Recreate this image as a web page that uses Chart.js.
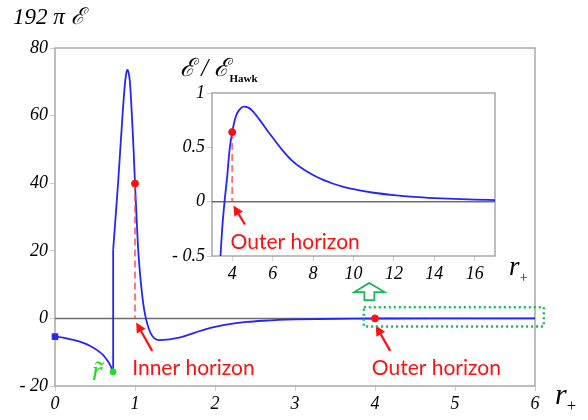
<!DOCTYPE html>
<html>
<head>
<meta charset="utf-8">
<script src="https://cdn.jsdelivr.net/npm/chart.js@4/dist/chart.umd.min.js"></script>
<style>
  body { margin: 0; background: #fff; }
  #wrap { position: relative; width: 588px; height: 420px; }
  #insetBox { position: absolute; left: 160px; top: 80px; width: 340px; height: 200px; }
  .lbl { position: absolute; font-family: "Liberation Serif", "DejaVu Serif", serif; font-style: italic; color: #000; white-space: nowrap; line-height: 1; }
  .sub { font-style: normal; font-size: 0.55em; position: relative; top: 0.45em; }
</style>
</head>
<body>
<div id="wrap">
  <canvas id="mainChart" width="588" height="420"></canvas>
  <div id="insetBox"><canvas id="insetChart" width="340" height="200"></canvas></div>
  <div class="lbl" style="left:13px;top:5px;font-size:23px;">192 π ℰ</div>
  <div class="lbl" style="left:180px;top:55px;font-size:25px;">ℰ / ℰ<span style="font-style:normal;font-weight:bold;font-size:11px;position:relative;top:6px;">Hawk</span></div>
  <div class="lbl" style="left:555px;top:379px;font-size:30px;">r<span class="sub">+</span></div>
  <div class="lbl" style="left:509px;top:253px;font-size:27px;">r<span class="sub">+</span></div>
</div>
<script>
// main curve: 192 pi E vs r+, split at the jump
const mainLeftX = [0, 0.1, 0.2, 0.3, 0.4, 0.5, 0.55, 0.6, 0.65, 0.69, 0.725];
const mainLeftY = [-5.4, -5.7, -6.2, -6.8, -7.7, -9.0, -9.8, -10.8, -12.3, -13.8, -15.8];
const mainRightX = [0.727, 0.789, 0.844, 0.877, 0.895, 0.906, 0.917, 0.936, 0.961, 0.982, 1.0, 1.019, 1.04, 1.074, 1.103, 1.136, 1.2, 1.3, 1.4, 1.5, 1.6, 1.7, 1.8, 1.9, 2.0, 2.2, 2.4, 2.6, 2.8, 3.0, 3.3, 3.7, 4.2, 5, 6];
const mainRightY = [20.3, 40.2, 60.1, 70.1, 73.0, 73.5, 73.0, 70.1, 60.1, 50.1, 39.9, 30.2, 20.3, 10.4, 4.4, 0, -4.6, -6.4, -6.3, -5.9, -5.4, -4.6, -3.8, -3.1, -2.5, -1.6, -1.05, -0.7, -0.45, -0.3, -0.18, -0.08, -0.03, -0.01, 0];
const mainXTicks = [0, 1, 2, 3, 4, 5, 6];
const mainYTicks = [-20, 0, 20, 40, 60, 80];

// inset curve: E / E_Hawk vs r+
const insetX = [3.42, 3.5, 3.62, 3.75, 3.87, 4.0, 4.17, 4.35, 4.58, 4.8, 5.0, 5.33, 5.6, 6.0, 6.5, 7.0, 7.5, 8.0, 8.5, 9.0, 9.5, 10, 11, 12, 13, 14, 15, 16, 17];
const insetY = [-0.5, -0.26, 0, 0.23, 0.48, 0.64, 0.78, 0.845, 0.874, 0.865, 0.835, 0.76, 0.69, 0.59, 0.47, 0.37, 0.30, 0.245, 0.2, 0.165, 0.137, 0.115, 0.082, 0.06, 0.044, 0.033, 0.025, 0.019, 0.015];
const insetXTicks = [4, 6, 8, 10, 12, 14, 16];
const insetYTicks = [-0.5, 0, 0.5, 1];

// marked points
const startPt = [0, -5.4];
const tildePt = [0.725, -15.8];
const innerPt = [1, 39.9];
const outerPt = [4, 0];
const insetOuterPt = [4, 0.64];

const BLUE = '#2424ff';
const RED = '#ff1010';
const GREEN = '#1ee01e';

function zip(xs, ys) {
    return xs.map((x, i) => ({ x: x, y: ys[i] }));
}

function negLabel(v) {
    return v < 0 ? '- ' + Math.abs(v) : String(v);
}

// draws the frame, the zero line and the red/green annotations
const annot = {
    id: 'annot',
    beforeDatasetsDraw(chart, args, o) {
        const { ctx, chartArea: a, scales } = chart;
        const y0 = scales.y.getPixelForValue(0);
        ctx.save();
        ctx.strokeStyle = '#a8a8a8';
        ctx.lineWidth = 1.5;
        ctx.strokeRect(a.left, a.top, a.right - a.left, a.bottom - a.top);
        ctx.strokeStyle = '#6e6e6e';
        ctx.beginPath();
        ctx.moveTo(a.left, y0);
        ctx.lineTo(a.right, y0);
        ctx.stroke();
        ctx.restore();
    },
    afterDatasetsDraw(chart, args, o) {
        const { ctx, scales } = chart;
        const px = v => scales.x.getPixelForValue(v);
        const py = v => scales.y.getPixelForValue(v);
        ctx.save();

        (o.arrows || []).forEach(ar => {
            const x1 = px(ar[0]), y1 = py(ar[1]), x2 = px(ar[2]), y2 = py(ar[3]);
            const ang = Math.atan2(y2 - y1, x2 - x1);
            const hl = 10, hw = 5;
            const bx = x2 - hl * Math.cos(ang), by = y2 - hl * Math.sin(ang);
            ctx.strokeStyle = RED;
            ctx.fillStyle = RED;
            ctx.lineWidth = 2.2;
            ctx.beginPath();
            ctx.moveTo(x1, y1);
            ctx.lineTo(bx, by);
            ctx.stroke();
            ctx.beginPath();
            ctx.moveTo(x2, y2);
            ctx.lineTo(bx + hw * Math.sin(ang), by - hw * Math.cos(ang));
            ctx.lineTo(bx - hw * Math.sin(ang), by + hw * Math.cos(ang));
            ctx.closePath();
            ctx.fill();
        });

        ctx.font = '21px Lato, "Open Sans", sans-serif';
        ctx.fillStyle = RED;
        ctx.textBaseline = 'middle';
        (o.texts || []).forEach(t => {
            ctx.fillText(t[2], px(t[0]), py(t[1]));
        });

        if (o.tilde) {
            ctx.fillStyle = GREEN;
            ctx.font = 'italic 28px "Liberation Serif", serif';
            ctx.fillText('r\u0303', px(o.tilde[0]), py(o.tilde[1]));
        }

        if (o.box) {
            const b = o.box;
            ctx.strokeStyle = '#1bb85a';
            ctx.lineWidth = 2.5;
            ctx.setLineDash([2, 3]);
            ctx.strokeRect(px(b[0]), py(b[3]), px(b[1]) - px(b[0]), py(b[2]) - py(b[3]));
            ctx.setLineDash([]);
        }

        if (o.up) {
            const u = o.up;
            const cx = px(u[0]), top = py(u[1]), mid = py(u[2]), bot = py(u[3]);
            const hw = 15, sw = 5;
            ctx.strokeStyle = '#1bb85a';
            ctx.lineWidth = 1.8;
            ctx.beginPath();
            ctx.moveTo(cx, top);
            ctx.lineTo(cx + hw, mid);
            ctx.lineTo(cx + sw, mid);
            ctx.lineTo(cx + sw, bot);
            ctx.lineTo(cx - sw, bot);
            ctx.lineTo(cx - sw, mid);
            ctx.lineTo(cx - hw, mid);
            ctx.closePath();
            ctx.stroke();
        }
        ctx.restore();
    }
};

function axisX(min, max, ticks, h) {
    return {
        type: 'linear', min: min, max: max,
        afterBuildTicks: s => { s.ticks = ticks.map(v => ({ value: v })); },
        afterFit: s => { s.height = h; },
        grid: { drawOnChartArea: false, drawTicks: true, tickLength: 5, color: '#cfcfcf' },
        border: { display: false },
        ticks: { color: '#000', padding: 2, maxRotation: 0, font: { family: '"Liberation Serif", serif', style: 'italic', size: 18 } }
    };
}

function axisY(min, max, ticks, w) {
    return {
        type: 'linear', min: min, max: max,
        afterBuildTicks: s => { s.ticks = ticks.map(v => ({ value: v })); },
        afterFit: s => { s.width = w; },
        grid: { drawOnChartArea: false, drawTicks: true, tickLength: 5, color: '#cfcfcf' },
        border: { display: false },
        ticks: { color: '#000', padding: 2, callback: negLabel, font: { family: '"Liberation Serif", serif', style: 'italic', size: 18 } }
    };
}

function curve(points, smooth) {
    return { data: points, borderColor: BLUE, borderWidth: 1.8, pointRadius: 0, cubicInterpolationMode: smooth ? 'monotone' : 'default', tension: 0 };
}

function dashed(p) {
    return { type: 'line', data: [{ x: p[0], y: p[1] }, { x: p[0], y: 0 }], borderColor: 'rgba(255,60,60,0.75)', borderWidth: 1.8, borderDash: [7, 4], pointRadius: 0 };
}

function dot(p, color, style, r) {
    return { type: 'scatter', data: [{ x: p[0], y: p[1] }], backgroundColor: color, borderColor: color, pointStyle: style, pointRadius: r, clip: false };
}

document.addEventListener('DOMContentLoaded', function () {
    const left = zip(mainLeftX, mainLeftY);
    const right = zip(mainRightX, mainRightY);
    new Chart(document.getElementById('mainChart'), {
        type: 'line',
        data: {
            datasets: [
                dot(startPt, BLUE, 'rect', 4),
                dot(tildePt, GREEN, 'circle', 3),
                dot(innerPt, RED, 'circle', 3.5),
                dot(outerPt, RED, 'circle', 3.5),
                dashed(innerPt),
                curve(left, true),
                curve([left[left.length - 1], right[0]], false),
                curve(right, true)
            ]
        },
        options: {
            responsive: false,
            animation: false,
            layout: { padding: { left: 0, top: 48, right: 53, bottom: 0 } },
            scales: { x: axisX(0, 6, mainXTicks, 34), y: axisY(-20, 80, mainYTicks, 55) },
            plugins: {
                legend: { display: false },
                tooltip: { enabled: false },
                annot: {
                    arrows: [[1.215, -9.6, 1.015, -1.2], [4.19, -9.6, 4.01, -2.1]],
                    texts: [[0.965, -14.6, 'Inner horizon'], [3.96, -14.6, 'Outer horizon']],
                    tilde: [0.46, -16.0],
                    box: [3.86, 6.11, -2.4, 3.3],
                    up: [3.93, 10.5, 7.8, 5.4]
                }
            }
        },
        plugins: [annot]
    });

    new Chart(document.getElementById('insetChart'), {
        type: 'line',
        data: {
            datasets: [
                dot(insetOuterPt, RED, 'circle', 3.5),
                dashed(insetOuterPt),
                curve(zip(insetX, insetY), true)
            ]
        },
        options: {
            responsive: false,
            animation: false,
            layout: { padding: { left: 0, top: 13, right: 5, bottom: 0 } },
            scales: { x: axisX(3, 17, insetXTicks, 24), y: axisY(-0.5, 1, insetYTicks, 52) },
            plugins: {
                legend: { display: false },
                tooltip: { enabled: false },
                annot: {
                    arrows: [[4.63, -0.21, 4.06, -0.035]],
                    texts: [[3.92, -0.373, 'Outer horizon']]
                }
            }
        },
        plugins: [annot]
    });
});
</script>
</body>
</html>
